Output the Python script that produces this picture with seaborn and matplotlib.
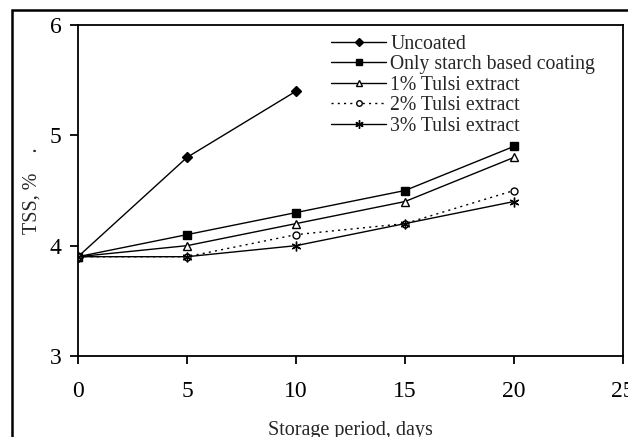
import matplotlib
matplotlib.use("Agg")
import matplotlib.pyplot as plt
import seaborn as sns
import pandas as pd
from matplotlib.lines import Line2D
from matplotlib.patches import Rectangle

days = [0, 5, 10, 15, 20]
uncoated = [3.9, 4.8, 5.4]
starch = [3.9, 4.1, 4.3, 4.5, 4.9]
tulsi1 = [3.9, 4.0, 4.2, 4.4, 4.8]
tulsi2 = [3.9, 3.9, 4.1, 4.2, 4.5]
tulsi3 = [3.9, 3.9, 4.0, 4.2, 4.4]
names = ["Uncoated", "Only starch based coating", "1% Tulsi extract",
         "2% Tulsi extract", "3% Tulsi extract"]
series = [uncoated, starch, tulsi1, tulsi2, tulsi3]

rows = []
for n, vals in zip(names, series):
    for d, v in zip(days, vals):
        rows.append({"Series": n, "Day": d, "TSS": v})
df = pd.DataFrame(rows)

sns.set_theme(style="ticks")
plt.rcParams['font.family'] = ['Liberation Serif', 'DejaVu Serif']

fig = plt.figure(figsize=(6.28, 4.37), dpi=100)
ax = fig.add_axes([78/628, 1-356/437, (623-78)/628, (356-25)/437])

markers = {names[0]: "D", names[1]: "s", names[2]: "^", names[3]: "o", names[4]: (6, 2, 0)}
msizes = {names[0]: 5, names[1]: 6, names[2]: 6, names[3]: 5, names[4]: 7}
mfc = {names[0]: "black", names[1]: "black", names[2]: "white", names[3]: "white", names[4]: "black"}
ls = {names[0]: "-", names[1]: "-", names[2]: "-", names[3]: (0, (1.5, 3)), names[4]: "-"}

handles = []
for n in names:
    sub = df[df["Series"] == n]
    sns.lineplot(data=sub, x="Day", y="TSS", ax=ax, color="black", linewidth=1.0,
                 marker=markers[n], markersize=msizes[n], markerfacecolor=mfc[n],
                 markeredgecolor="black", markeredgewidth=1.0, linestyle=ls[n],
                 legend=False, zorder=3)
    handles.append(Line2D([0], [0], color="black", linewidth=1.0, linestyle=ls[n],
                          marker=markers[n], markersize=msizes[n] - 1,
                          markerfacecolor=mfc[n], markeredgecolor="black"))

ax.set_xlim(0, 25)
ax.set_ylim(3, 6)
ax.set_xticks([0, 5, 10, 15, 20, 25])
ax.set_yticks([3, 4, 5, 6])
for s in ax.spines.values():
    s.set_linewidth(1.3)
    s.set_color("black")
ax.tick_params(axis="both", direction="out", length=6, width=1.3, labelsize=17,
               colors="black")
ax.tick_params(axis="x", pad=12)
ax.tick_params(axis="y", pad=6)
ax.set_xlabel("Storage period, days", fontsize=14.5, labelpad=14)
ax.set_ylabel("TSS, %    .", fontsize=14.5, labelpad=6)
for lab in ax.get_xticklabels() + ax.get_yticklabels():
    lab.set_clip_on(False)

leg = ax.legend(handles, names, loc="upper left", bbox_to_anchor=(0.45, 0.995),
                frameon=False, fontsize=14.2, handlelength=2.8, handletextpad=0.2,
                labelspacing=0.08, borderaxespad=0)

fig.patches.append(Rectangle((12/628, -0.1), 1.2, 1 - 10/437 + 0.1,
                             transform=fig.transFigure, fill=False,
                             edgecolor="black", linewidth=1.8, zorder=10))
fig.savefig("out.png", dpi=100)
